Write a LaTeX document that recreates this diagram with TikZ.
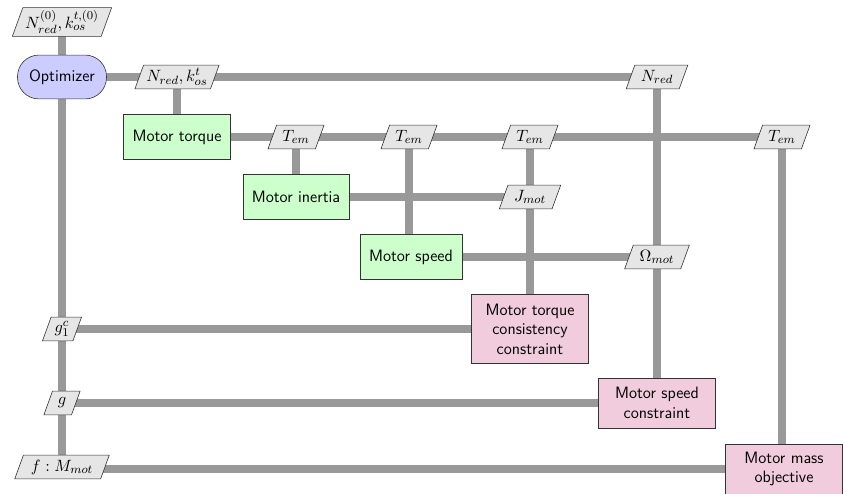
\documentclass[tikz,border=0pt]{standalone}
\usepackage{tikz}
\usetikzlibrary{shapes.geometric, backgrounds}

\definecolor{optfill}{RGB}{204,204,255}
\definecolor{funcfill}{RGB}{204,255,204}
\definecolor{consfill}{RGB}{240,204,220}
\definecolor{datafill}{RGB}{230,230,230}
\definecolor{linkgray}{RGB}{153,153,153}

\begin{document}
\begin{tikzpicture}[
        x=0.0235cm, y=-0.0235cm,
        every node/.style={font=\fontsize{11}{13}\selectfont},
        optimizer/.style={draw=black!80, rectangle, rounded corners=0.5cm, fill=optfill, minimum width=2.09cm, minimum height=1.03cm, align=center, font=\fontsize{11}{13}\selectfont\sffamily},
        func/.style={draw=black!80, rectangle, fill=funcfill, minimum height=1.05cm, inner xsep=6pt, align=center, font=\fontsize{11}{13}\selectfont\sffamily},
        cons/.style={draw=black!80, rectangle, fill=consfill, minimum width=2.75cm, inner ysep=4pt, align=center, font=\fontsize{11}{13}\selectfont\sffamily},
        data/.style={draw=black!80, trapezium, trapezium left angle=70, trapezium right angle=110, fill=datafill, minimum height=0.56cm, inner xsep=1.5pt, inner ysep=2pt},
        link/.style={draw=linkgray, line width=6pt}
    ]
        \useasboundingbox (0,0) rectangle (843,493);

        % Nodes
        \node (x0) [data] at (62,22) {$N_{red}^{(0)}, k_{os}^{t,(0)}$};
        \node (opt) [optimizer] at (62,77) {Optimizer};
        \node (xopt) [data] at (177,77) {$N_{red}, k_{os}^{t}$};
        \node (nred) [data] at (657,77) {$N_{red}$};
        \node (torque) [func] at (177,137) {Motor torque};
        \node (tem1) [data] at (296,137) {$T_{em}$};
        \node (tem2) [data] at (409,137) {$T_{em}$};
        \node (tem3) [data] at (530,137) {$T_{em}$};
        \node (tem4) [data] at (782,137) {$T_{em}$};
        \node (inertia) [func] at (296,197) {Motor inertia};
        \node (jmot) [data] at (530,197) {$J_{mot}$};
        \node (speed) [func] at (411,257) {Motor speed};
        \node (omot) [data] at (657,257) {$\Omega_{mot}$};
        \node (tcons) [cons, minimum height=1.62cm] at (530,329) {Motor torque\\consistency\\constraint};
        \node (scons) [cons, minimum height=1.18cm] at (657,403) {Motor speed\\constraint};
        \node (mobj) [cons, minimum height=1.18cm] at (784,469) {Motor mass\\objective};
        \node (g1c) [data] at (62,329) {$g_1^c$};
        \node (g) [data] at (62,403) {$g$};
        \node (f) [data] at (62,467) {$f: M_{mot}$};

        % Links
        \begin{pgfonlayer}{background}
        \draw [link] (x0.center) -- (opt.center);
        \draw [link] (opt.center) -- (f.center);
        \draw [link] (opt.center) -- (nred.center);
        \draw [link] (xopt.center) -- (torque.center);
        \draw [link] (nred.center) -- (scons.center);
        \draw [link] (torque.center) -- (tem4.center);
        \draw [link] (tem1.center) -- (inertia.center);
        \draw [link] (tem2.center) -- (tem2.center |- speed.center);
        \draw [link] (tem3.center) -- (tcons.center);
        \draw [link] (tem4.center) -- (mobj.center -| tem4.center);
        \draw [link] (inertia.center) -- (jmot.center);
        \draw [link] (speed.center) -- (omot.center);
        \draw [link] (g1c.center) -- (tcons.center);
        \draw [link] (g.center) -- (scons.center);
        \draw [link] (f.center) -- (mobj.center -| f.center) -- (mobj.center);
        \end{pgfonlayer}
\end{tikzpicture}
\end{document}
